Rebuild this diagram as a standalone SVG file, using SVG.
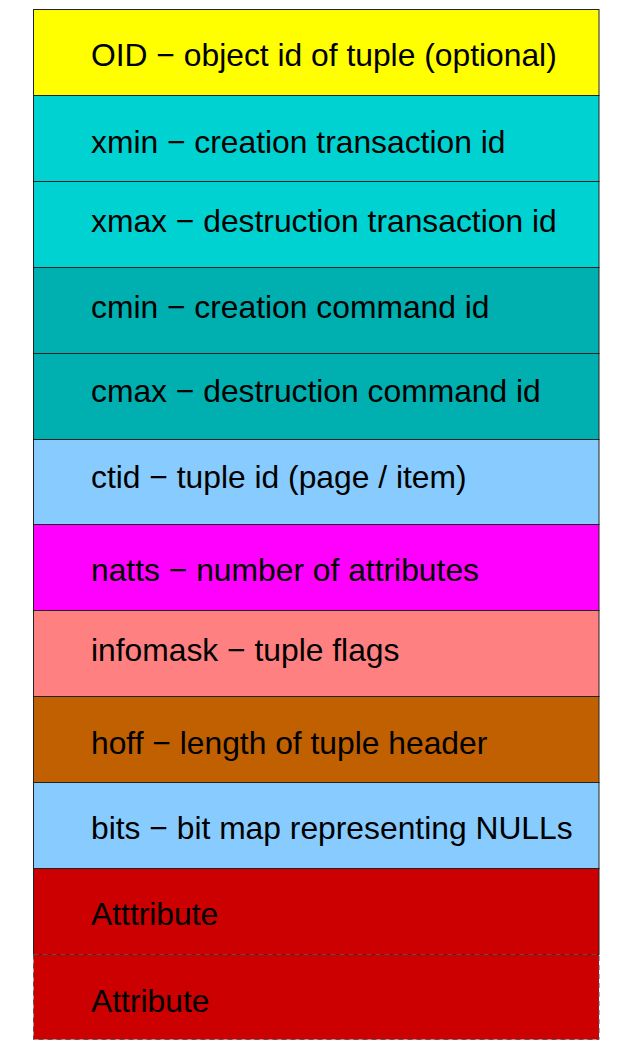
<svg xmlns="http://www.w3.org/2000/svg" width="636" height="1060" viewBox="0 0 636 1060">
<style>
.box{stroke:#222;stroke-width:1}
.dash{stroke:#555;stroke-width:1;stroke-dasharray:5 4}
text{font-family:"Liberation Sans",Arial,Helvetica,sans-serif;font-size:31.8px;fill:#000}
</style>
<rect width="636" height="1060" fill="#fff"/>
<g id="oid"><rect class="box" x="33.5" y="9.5" width="565.5" height="86" fill="#FFFF00"/><text x="91" y="66">OID − object id of tuple (optional)</text></g>
<g id="xmin"><rect class="box" x="33.5" y="95.5" width="565.5" height="86" fill="#00D2D2"/><text x="91" y="153">xmin − creation transaction id</text></g>
<g id="xmax"><rect class="box" x="33.5" y="181.5" width="565.5" height="86" fill="#00D2D2"/><text x="91" y="232">xmax − destruction transaction id</text></g>
<g id="cmin"><rect class="box" x="33.5" y="267.5" width="565.5" height="86" fill="#00AFAF"/><text x="91" y="318">cmin − creation command id</text></g>
<g id="cmax"><rect class="box" x="33.5" y="353.5" width="565.5" height="86" fill="#00AFAF"/><text x="91" y="402">cmax − destruction command id</text></g>
<g id="ctid"><rect class="box" x="33.5" y="439.5" width="565.5" height="85" fill="#88CCFF"/><text x="91" y="488">ctid − tuple id (page / item)</text></g>
<g id="natts"><rect class="box" x="33.5" y="524.5" width="565.5" height="86" fill="#FF00FF"/><text x="91" y="581">natts − number of attributes</text></g>
<g id="infomask"><rect class="box" x="33.5" y="610.5" width="565.5" height="86" fill="#FF8080"/><text x="91" y="661">infomask − tuple flags</text></g>
<g id="hoff"><rect class="box" x="33.5" y="696.5" width="565.5" height="86" fill="#C06000"/><text x="91" y="754">hoff − length of tuple header</text></g>
<g id="bits"><rect class="box" x="33.5" y="782.5" width="565.5" height="86" fill="#88CCFF"/><text x="91" y="839">bits − bit map representing NULLs</text></g>
<g id="attr1"><rect class="box" x="33.5" y="868.5" width="565.5" height="86" fill="#CC0000"/><text x="91" y="925">Atttribute</text></g>
<g id="attr2"><rect class="dash" x="33.5" y="954.5" width="565.5" height="85" fill="#CC0000"/><text x="91" y="1012">Attribute</text></g>
<g id="connectors"></g>
</svg>
